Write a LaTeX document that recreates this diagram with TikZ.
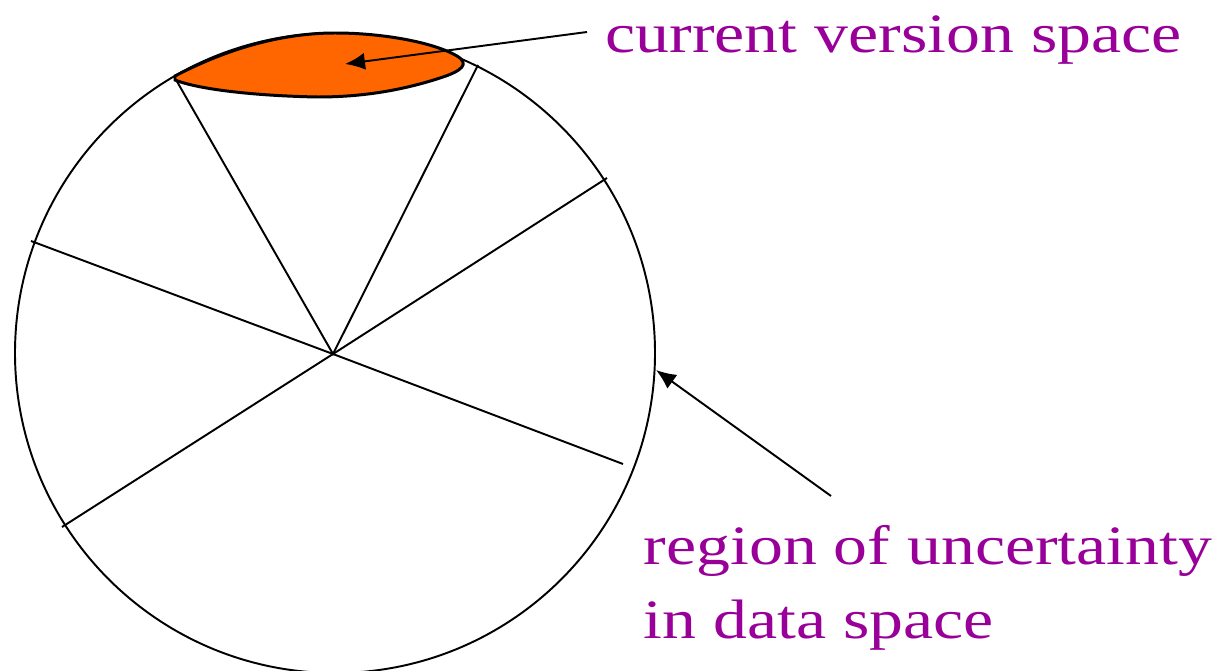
\documentclass[tikz,border=0pt]{standalone}
\usepackage{fontspec}
\setmainfont[FakeStretch=1.22]{Liberation Serif}
\usetikzlibrary{arrows.meta,positioning}
\definecolor{labelpurple}{HTML}{990099}
\definecolor{vsorange}{HTML}{FF6600}

\begin{document}
\begin{tikzpicture}[x=.01cm,y=-.01cm,
    thinline/.style={line width=.55pt},
    pointer/.style={line width=.55pt,-{Latex[length=2mm,width=1.7mm]}},
    biglabel/.style={anchor=base west,inner sep=0pt,align=left,
      font=\fontsize{15.8}{20.8}\selectfont,text=labelpurple}]
        \useasboundingbox (0,0) rectangle (1228,670);
        % data space and its partition
        \coordinate (mid) at (333,354);
        \draw[thinline] (335,353) circle[radius=320];
        \coordinate (cutA) at (175,78);
        \coordinate (cutB) at (478,65);
        \coordinate (cutC) at (31,241);
        \coordinate (cutD) at (623,464);
        \coordinate (cutE) at (607,178);
        \coordinate (cutF) at (62,527);
        \draw[thinline] (cutA) -- (mid) -- (cutB);
        \draw[thinline] (cutC) -- (mid) -- (cutD);
        \draw[thinline] (cutE) -- (mid) -- (cutF);
        % version space blob
        \draw[line width=.85pt,fill=vsorange]
          (175,76) .. controls (240,42) and (295,33) .. (335,33)
          .. controls (385,33) and (435,43) .. (457,56)
          .. controls (470,64) and (462,71) .. (440,78)
          .. controls (400,91) and (360,97) .. (318,97)
          .. controls (260,96) and (200,90) .. (175,80) -- cycle;
        % labels
        \node[biglabel] (vslabel) at (605,53) {current version space};
        \node[biglabel] (roulabel) at (643,638) {region of uncertainty\\in data space};
        \coordinate (vsfrom) at (587,32);
        \coordinate (vsto) at (345,64);
        \coordinate (roufrom) at (831,496);
        \coordinate (routo) at (656,370);
        \draw[pointer] (vsfrom) -- (vsto);
        \draw[pointer] (roufrom) -- (routo);
      \end{tikzpicture}
\end{document}
